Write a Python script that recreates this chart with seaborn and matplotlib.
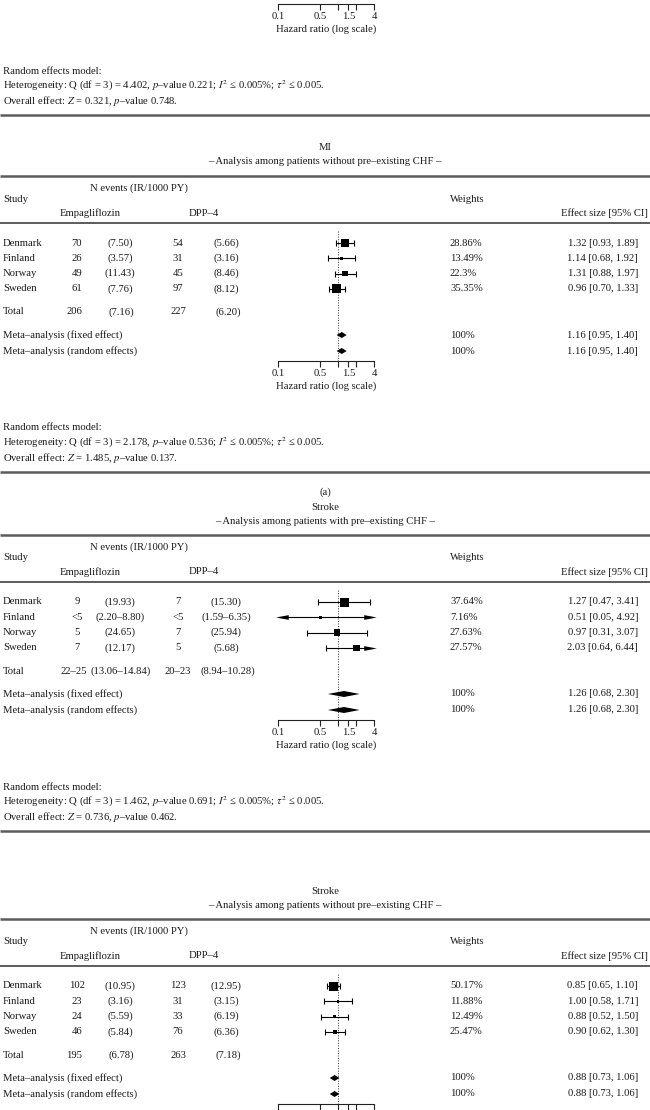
import numpy as np
import matplotlib
matplotlib.use("Agg")
import matplotlib.pyplot as plt
import seaborn as sns

# ---------------- data ----------------
studies = ["Denmark", "Finland", "Norway", "Sweden"]

# MI, without pre-existing CHF
mi_emp_n = ["70", "26", "49", "61"]
mi_emp_ir = ["(7.50)", "(3.57)", "(11.43)", "(7.76)"]
mi_dpp_n = ["54", "31", "45", "97"]
mi_dpp_ir = ["(5.66)", "(3.16)", "(8.46)", "(8.12)"]
mi_hr = [1.32, 1.14, 1.31, 0.96]
mi_lo = [0.93, 0.68, 0.88, 0.70]
mi_hi = [1.89, 1.92, 1.97, 1.33]
mi_w = [28.86, 13.49, 22.3, 35.35]
mi_total = ["206", "(7.16)", "227", "(6.20)"]
mi_meta = [1.16, 0.95, 1.40]
mi_het = ["2.178", "0.536", "1.485", "0.137"]

# Stroke, with pre-existing CHF
sw_emp_n = ["9", "<5", "5", "7"]
sw_emp_ir = ["(19.93)", "(2.20–8.80)", "(24.65)", "(12.17)"]
sw_dpp_n = ["7", "<5", "7", "5"]
sw_dpp_ir = ["(15.30)", "(1.59–6.35)", "(25.94)", "(5.68)"]
sw_hr = [1.27, 0.51, 0.97, 2.03]
sw_lo = [0.47, 0.05, 0.31, 0.64]
sw_hi = [3.41, 4.92, 3.07, 6.44]
sw_w = [37.64, 7.16, 27.63, 27.57]
sw_total = ["22–25", "(13.06–14.84)", "20–23", "(8.94–10.28)"]
sw_meta = [1.26, 0.68, 2.30]
sw_het = ["1.462", "0.691", "0.736", "0.462"]

# Stroke, without pre-existing CHF
so_emp_n = ["102", "23", "24", "46"]
so_emp_ir = ["(10.95)", "(3.16)", "(5.59)", "(5.84)"]
so_dpp_n = ["123", "31", "33", "76"]
so_dpp_ir = ["(12.95)", "(3.15)", "(6.19)", "(6.36)"]
so_hr = [0.85, 1.00, 0.88, 0.90]
so_lo = [0.65, 0.58, 0.52, 0.62]
so_hi = [1.10, 1.71, 1.50, 1.30]
so_w = [50.17, 11.88, 12.49, 25.47]
so_total = ["195", "(6.78)", "263", "(7.18)"]
so_meta = [0.88, 0.73, 1.06]

# previous panel (only its footer is visible)
top_het = ["4.402", "0.221", "0.321", "0.748"]

ticks = [0.1, 0.5, 1, 1.5, 2, 4]
tick_labels = ["0.1", "0.5", "", "1.5", "", "4"]

# ---------------- style ----------------
sns.set_theme(style="white")
plt.rcParams["font.family"] = ["Liberation Serif", "DejaVu Serif"]
plt.rcParams["mathtext.fontset"] = "stix"
FS = 7.7
TXT = "#1a1a1a"
LINE = "#5c5c5c"

W, H = 650, 1110
fig = plt.figure(figsize=(6.5, 11.1), dpi=100)
ax = fig.add_axes([0, 0, 1, 1])
ax.set_xlim(0, W)
ax.set_ylim(H, 0)
ax.axis("off")

XL, XR = 278, 374   # pixel span of the 0.1 .. 4 axis
PITCH = 15.3


def t(x, y, s, ha="left", **kw):
    ax.text(x, y, s, ha=ha, va="center", fontsize=FS, color=TXT, **kw)


def forest_axes(top, bottom, labels=True):
    a = fig.add_axes([XL / W, 1 - bottom / H, (XR - XL) / W, (bottom - top) / H])
    a.set_xscale("log")
    a.set_xlim(0.1, 4)
    a.set_ylim(bottom, top)
    a.patch.set_alpha(0)
    for sp in ["top", "left", "right"]:
        a.spines[sp].set_visible(False)
    a.spines["bottom"].set_color("#222")
    a.spines["bottom"].set_linewidth(0.8)
    a.set_yticks([])
    a.minorticks_off()
    a.set_xticks(ticks)
    a.set_xticklabels(tick_labels if labels else [""] * len(ticks))
    a.tick_params(axis="x", direction="out", length=4, width=0.8, color="#222",
                  labelsize=FS, labelcolor=TXT, pad=2, bottom=True)
    return a


def footer(D, het):
    t((XL + XR) / 2, D + 143, "Hazard ratio (log scale)", ha="center")
    t(3, D + 185, "Random effects model:")
    t(3, D + 200, "Heterogeneity: Q (df = 3) = %s, $p$–value %s; $I^2$ ≤ 0.005%%; $\\tau^2$ ≤ 0.005." % (het[0], het[1]))
    t(3, D + 215, "Overall effect: $Z$ = %s, $p$–value %s." % (het[2], het[3]))
    ax.hlines(D + 229, 0, W, color=LINE, lw=1.8)


def panel(D, title, subtitle, emp_n, emp_ir, dpp_n, dpp_ir, hr, lo, hi, w,
          total, meta, het=None, caption=None):
    if caption:
        t(W / 2, D - 110, caption, ha="center")
    t(W / 2, D - 95, title, ha="center")
    t(W / 2, D - 81, subtitle, ha="center")
    ax.hlines(D - 67, 0, W, color=LINE, lw=1.8)
    t(90, D - 55, "N events (IR/1000 PY)")
    t(3, D - 44, "Study")
    t(450, D - 44, "Weights")
    t(60, D - 30, "Empagliflozin")
    t(189, D - 30, "DPP–4")
    t(648, D - 30, "Effect size [95% CI]", ha="right")
    ax.hlines(D - 20, 0, W, color=LINE, lw=1.4)

    rows = [D + PITCH * i for i in range(len(studies))]
    for i, y in enumerate(rows):
        t(3, y, studies[i])
        t(77, y, emp_n[i], ha="center")
        t(120, y, emp_ir[i], ha="center")
        t(178, y, dpp_n[i], ha="center")
        t(226, y, dpp_ir[i], ha="center")
        t(450, y, "%g%%" % w[i])
        t(638, y, "%.2f [%.2f, %.2f]" % (hr[i], lo[i], hi[i]), ha="right")
    yt = D + 69
    t(3, yt, "Total")
    t(74, yt, total[0], ha="center")
    t(121, yt, total[1], ha="center")
    t(178, yt, total[2], ha="center")
    t(228, yt, total[3], ha="center")
    ym = [D + 92, D + 108]
    for y, lab in zip(ym, ["Meta–analysis (fixed effect)", "Meta–analysis (random effects)"]):
        t(3, y, lab)
        t(450, y, "100%")
        t(638, y, "%.2f [%.2f, %.2f]" % tuple(meta), ha="right")

    # forest
    a = forest_axes(D - 13, D + 118, labels=het is not None)
    a.axvline(1, color="#333", lw=0.7, ls=(0, (1, 1.6)), zorder=1)
    lo_c = np.clip(lo, 0.1, 4)
    hi_c = np.clip(hi, 0.1, 4)
    a.hlines(rows, lo_c, hi_c, color="black", lw=0.8, zorder=2)
    larrow = [(-1, 0), (1, 0.38), (1, -0.38), (-1, 0)]
    rarrow = [(1, 0), (-1, 0.38), (-1, -0.38), (1, 0)]
    for i, y in enumerate(rows):
        if lo[i] < 0.1:
            a.plot([0.1 * 1.16], [y], marker=larrow, ms=9, color="black", mew=0, clip_on=False)
        else:
            a.plot([lo[i]], [y], marker="|", ms=4, mew=0.8, color="black")
        if hi[i] > 4:
            a.plot([4 / 1.16], [y], marker=rarrow, ms=9, color="black", mew=0, clip_on=False)
        else:
            a.plot([hi[i]], [y], marker="|", ms=4, mew=0.8, color="black")
    side = np.maximum(9.0 * np.array(w) / max(w), 2.6) * 0.72
    sns.scatterplot(x=hr, y=rows, marker="s", s=side ** 2, color="black",
                    linewidth=0, legend=False, ax=a, zorder=3)
    for y in ym:
        a.fill([meta[1], meta[0], meta[2], meta[0]], [y, y - 3, y, y + 3],
               color="black", lw=0, zorder=3)
    a.set_xlabel("")

    if het is not None:
        footer(D, het)


# top panel: only the lower part of its axis and the heterogeneity text show
D0 = -114
a0 = forest_axes(0, D0 + 118)
footer(D0, top_het)

panel(243, "MI", "– Analysis among patients without pre–existing CHF –",
      mi_emp_n, mi_emp_ir, mi_dpp_n, mi_dpp_ir, mi_hr, mi_lo, mi_hi, mi_w,
      mi_total, mi_meta, het=mi_het)

panel(602, "Stroke", "– Analysis among patients with pre–existing CHF –",
      sw_emp_n, sw_emp_ir, sw_dpp_n, sw_dpp_ir, sw_hr, sw_lo, sw_hi, sw_w,
      sw_total, sw_meta, het=sw_het, caption="(a)")

panel(986, "Stroke", "– Analysis among patients without pre–existing CHF –",
      so_emp_n, so_emp_ir, so_dpp_n, so_dpp_ir, so_hr, so_lo, so_hi, so_w,
      so_total, so_meta)

fig.savefig("out.png", dpi=100)
